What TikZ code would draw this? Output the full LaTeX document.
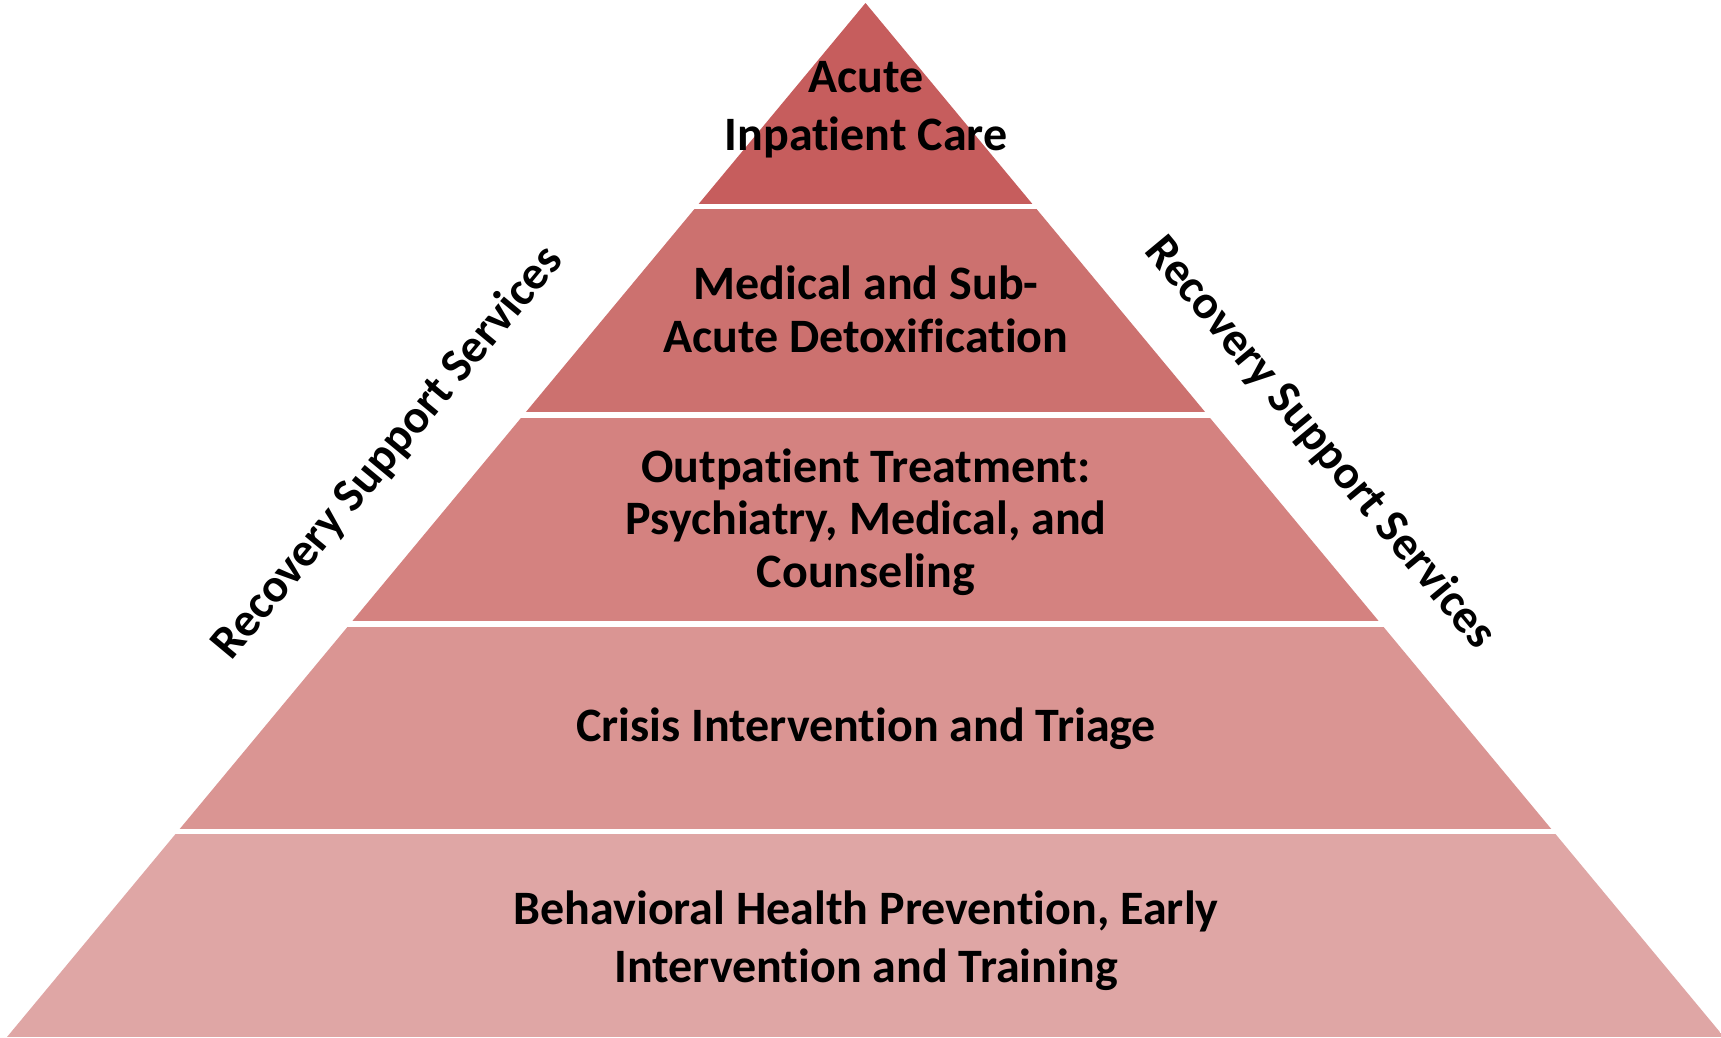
\documentclass[tikz,border=0pt]{standalone}
\usepackage{fontspec}
\setmainfont{Carlito}[Ligatures={NoCommon,NoContextual},RawFeature={-liga;-clig}]
\definecolor{tierA}{HTML}{C65D5D}
\definecolor{tierB}{HTML}{CC716F}
\definecolor{tierC}{HTML}{D48280}
\definecolor{tierD}{HTML}{DA9593}
\definecolor{tierE}{HTML}{DFA6A5}
\begin{document}
\begin{tikzpicture}[x=1pt,y=-1pt,
  lbl/.style={inner sep=0pt,align=center,text=black,font=\bfseries\fontsize{48}{57.5}\selectfont},
  lbltight/.style={lbl,font=\bfseries\fontsize{48}{52.5}\selectfont},
  side/.style={inner sep=0pt,text=black,font=\bfseries\fontsize{47.5}{57}\selectfont}]
\useasboundingbox[fill=white] (0,0) rectangle (1721,1037);
\begin{scope}
  \clip (865.5,3) -- (7,1037) -- (1724,1037) -- cycle;
  \fill[tierA] (0,0) rectangle (1721,204);
  \fill[tierB] (0,209) rectangle (1721,412);
  \fill[tierC] (0,418) rectangle (1721,621);
  \fill[tierD] (0,627) rectangle (1721,829);
  \fill[tierE] (0,834) rectangle (1721,1037);
\end{scope}
\node[lbl,anchor=base] (acute) at (866,150) {Acute\\Inpatient Care};
\node[lbltight,anchor=base] (detox) at (866,352) {Medical and Sub-\\Acute Detoxification};
\node[lbltight,anchor=base] (outpt) at (866,587) {Outpatient Treatment:\\Psychiatry, Medical, and\\Counseling};
\node[lbl,anchor=base] (crisis) at (866,741) {Crisis Intervention and Triage};
\node[lbl,anchor=base] (prev) at (866,982) {Behavioral Health Prevention, Early\\Intervention and Training};
\node[side,rotate=50.3] (rssL) at (388,453) {Recovery Support Services};
\node[side,rotate=-50.3] (rssR) at (1320,443) {Recovery Support Services};
\end{tikzpicture}
\end{document}
